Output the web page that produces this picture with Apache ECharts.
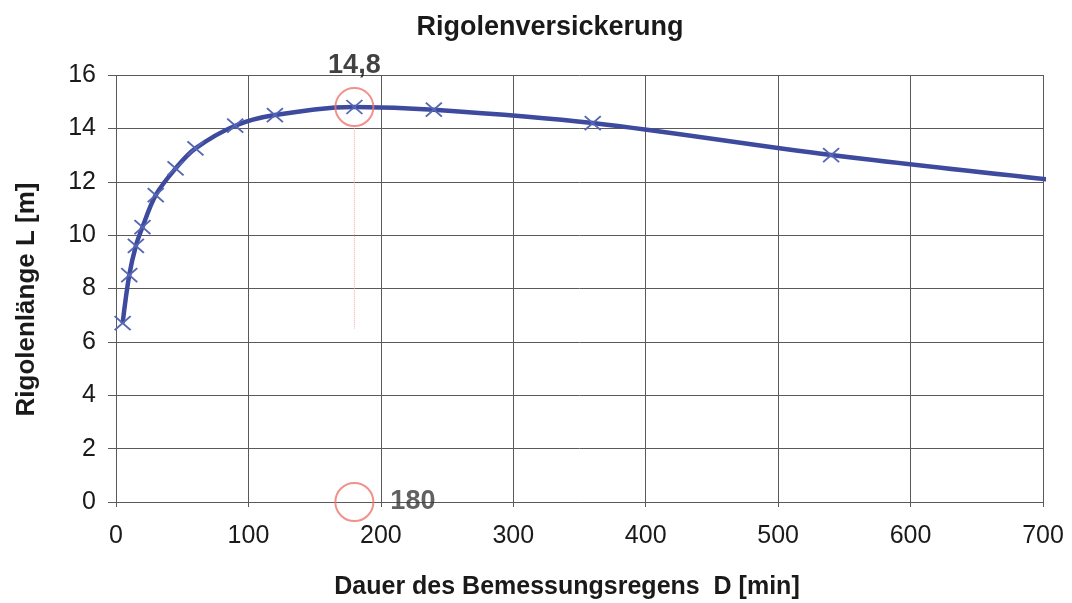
<!DOCTYPE html>
<html>
<head>
<meta charset="utf-8">
<script src="https://cdn.jsdelivr.net/npm/echarts@6/dist/echarts.min.js"></script>
<style>
  html, body { margin: 0; padding: 0; background: #ffffff; }
  #chart { width: 1072px; height: 603px; }
</style>
</head>
<body>
<div id="chart"></div>
<script>
// Rainfall duration D [min] and required trench length L [m]
const duration = [5, 10, 15, 20, 30, 45, 60, 90, 120, 180, 240, 360, 540, 720];
const trenchLength = [6.7, 8.5, 9.6, 10.3, 11.5, 12.5, 13.25, 14.1, 14.5, 14.8, 14.7, 14.2, 13.0, 12.0];

// Governing case: maximum length at D = 180 min
const designDuration = 180;
const designLength = 14.8;

// Thin dotted guide below the maximum
const guideLength = [14.1, 6.5];

const xTicks = { min: 0, max: 700, interval: 100 };
const yTicks = { min: 0, max: 16, interval: 2 };

const fontFamily = '"Liberation Sans", Arial, sans-serif';
const gridColor = '#5a5a5a';
const lineColor = '#3d4a9e';
const markerColor = '#5566b5';
const ringColor = '#ec776d';

const chart = echarts.init(document.getElementById('chart'), null, { renderer: 'canvas' });

chart.setOption({
  backgroundColor: '#ffffff',
  animation: false,
  title: {
    text: 'Rigolenversickerung',
    left: 545,
    textAlign: 'center',
    top: 9,
    textStyle: { fontFamily, fontWeight: 'bold', fontSize: 27, color: '#1a1a1a' }
  },
  grid: {
    left: 116, right: 29, top: 75, bottom: 101,
    containLabel: false,
    outerBoundsMode: 'none'
  },
  xAxis: {
    type: 'value',
    min: xTicks.min, max: xTicks.max, interval: xTicks.interval,
    name: 'Dauer des Bemessungsregens  D [min]',
    nameLocation: 'middle',
    nameGap: 73,
    nameTextStyle: {
      fontFamily, fontWeight: 'bold', fontSize: 25, color: '#1a1a1a',
      padding: [0, 25, 0, 0]
    },
    axisLine: { show: true, lineStyle: { color: gridColor, width: 1 } },
    axisTick: { show: true, length: 5, lineStyle: { color: gridColor } },
    axisLabel: { fontFamily, fontSize: 25, color: '#1a1a1a', margin: 22 },
    splitLine: { show: true, lineStyle: { color: gridColor, width: 1 } }
  },
  yAxis: {
    type: 'value',
    min: yTicks.min, max: yTicks.max, interval: yTicks.interval,
    name: 'Rigolenlänge L [m]',
    nameLocation: 'middle',
    nameGap: 76,
    nameRotate: 90,
    nameTextStyle: {
      fontFamily, fontWeight: 'bold', fontSize: 26, color: '#1a1a1a',
      padding: [0, 22, 0, 0]
    },
    axisLine: { show: false },
    axisTick: { show: true, length: 8, lineStyle: { color: gridColor } },
    axisLabel: { fontFamily, fontSize: 25, color: '#1a1a1a', margin: 20 },
    splitLine: { show: true, lineStyle: { color: gridColor, width: 1 } }
  },
  series: [
    {
      name: 'guide',
      type: 'line',
      data: guideLength.map(v => [designDuration, v]),
      symbol: 'none',
      lineStyle: { color: '#f2a7a0', width: 1, type: 'dotted' },
      z: 1
    },
    {
      name: 'L',
      type: 'line',
      data: duration.map((d, i) => [d, trenchLength[i]]),
      smooth: 0.35,
      clip: true,
      lineStyle: { color: lineColor, width: 4.5 },
      symbol: 'path://M0,0L16,14M16,0L0,14',
      symbolSize: [16, 14],
      showAllSymbol: true,
      itemStyle: { color: markerColor, borderColor: markerColor, borderWidth: 1.8 },
      z: 3
    },
    {
      name: 'max',
      type: 'scatter',
      data: [[designDuration, designLength]],
      symbol: 'circle',
      symbolSize: 38,
      itemStyle: { color: 'rgba(0,0,0,0)', borderColor: ringColor, borderWidth: 2 },
      label: {
        show: true,
        position: 'top',
        distance: 8,
        formatter: p => String(p.value[1]).replace('.', ','),
        fontFamily, fontWeight: 'bold', fontSize: 27, color: '#111111'
      },
      z: 4
    },
    {
      name: 'duration',
      type: 'scatter',
      data: [[designDuration, 0]],
      symbol: 'circle',
      symbolSize: 38,
      itemStyle: { color: 'rgba(0,0,0,0)', borderColor: ringColor, borderWidth: 2 },
      label: {
        show: true,
        position: 'right',
        distance: 16,
        formatter: p => String(p.value[0]),
        fontFamily, fontWeight: 'bold', fontSize: 27, color: '#3a3a3a'
      },
      z: 4
    }
  ]
});
</script>
</body>
</html>
